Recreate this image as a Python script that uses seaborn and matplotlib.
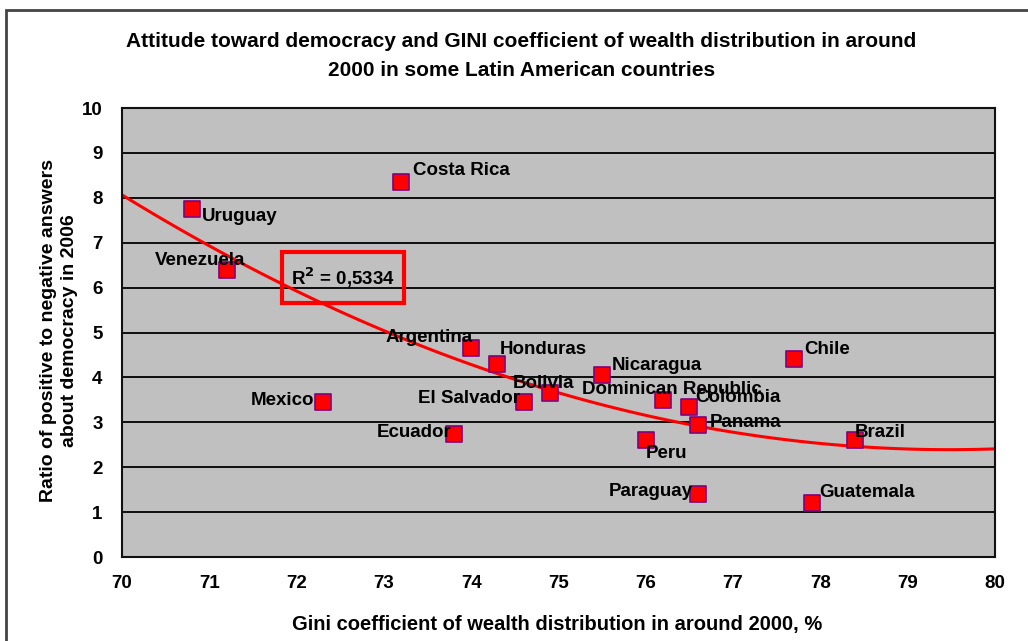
import numpy as np
import pandas as pd
import matplotlib.pyplot as plt
import seaborn as sns
from matplotlib.patches import Rectangle

countries = ["Uruguay", "Costa Rica", "Venezuela", "Argentina", "Honduras", "Mexico",
             "El Salvador", "Bolivia", "Nicaragua", "Ecuador", "Dominican Republic",
             "Colombia", "Panama", "Peru", "Chile", "Brazil", "Paraguay", "Guatemala"]
gini = [70.8, 73.2, 71.2, 74.0, 74.3, 72.3, 74.6, 74.9, 75.5, 73.8, 76.2,
        76.5, 76.6, 76.0, 77.7, 78.4, 76.6, 77.9]
ratio = [7.75, 8.35, 6.4, 4.65, 4.3, 3.45, 3.45, 3.65, 4.05, 2.75, 3.5,
         3.35, 2.95, 2.6, 4.4, 2.6, 1.4, 1.2]

# label offsets in pixels and alignment
label_pos = {
    "Uruguay": (10, -7, "left"), "Costa Rica": (12, 12, "left"),
    "Venezuela": (18, 9, "right"), "Argentina": (1, 11, "right"),
    "Honduras": (2, 14, "left"), "Mexico": (-9, 2, "right"),
    "El Salvador": (-4, 4, "right"), "Bolivia": (-6, 10, "center"),
    "Nicaragua": (10, 10, "left"), "Ecuador": (-2, 1, "right"),
    "Dominican Republic": (9, 10, "center"), "Colombia": (6, 9, "left"),
    "Panama": (12, 2, "left"), "Peru": (0, -13, "left"),
    "Chile": (10, 10, "left"), "Brazil": (-1, 8, "left"),
    "Paraguay": (-5, 3, "right"), "Guatemala": (8, 11, "left"),
}

df = pd.DataFrame({"country": countries, "gini": gini, "ratio": ratio})

sns.set_style("white")
plt.rcParams['font.family'] = ['Liberation Sans', 'DejaVu Sans']
plt.rcParams['font.weight'] = 'bold'
plt.rcParams['text.color'] = 'black'
plt.rcParams['axes.labelcolor'] = 'black'
plt.rcParams['xtick.color'] = 'black'
plt.rcParams['ytick.color'] = 'black'

fig = plt.figure(figsize=(10.28, 6.41), dpi=100)
ax = fig.add_axes([0.1187, 0.131, 0.8492, 0.7005])
ax.set_facecolor("#C0C0C0")
ax.set_xlim(70, 80)
ax.set_ylim(0, 10)
ax.set_xticks(range(70, 81))
ax.set_yticks(range(0, 11))
ax.grid(False)
for yv in range(1, 10):
    ax.axhline(yv, color="black", lw=1.3, zorder=1)

sns.regplot(data=df, x="gini", y="ratio", order=2, ci=None, scatter=False,
            truncate=False, ax=ax, line_kws={"color": "red", "lw": 2.2, "zorder": 2})
sns.scatterplot(data=df, x="gini", y="ratio", marker="s", s=120, color="red",
                edgecolor="#800080", linewidth=1.2, ax=ax, zorder=3)

for c, x, y in zip(countries, gini, ratio):
    dx, dy, ha = label_pos[c]
    ax.annotate(c, (x, y), xytext=(dx * 0.72, dy * 0.72), textcoords="offset points",
                ha=ha, va="center", fontsize=13.5, fontweight="bold", zorder=4)

ax.text(72.53, 6.21, "R$^2$ = 0,5334", ha="center", va="center", fontsize=13.5,
        fontweight="bold", zorder=5)
ax.add_patch(Rectangle((71.83, 5.66), 1.4, 1.13, fill=False, edgecolor="red", lw=3, zorder=5))

for s in ax.spines.values():
    s.set_color("#111111")
    s.set_linewidth(1.5)
ax.tick_params(direction="out", length=4, width=1.3, color="black", labelsize=13.5)
for lab in ax.get_xticklabels() + ax.get_yticklabels():
    lab.set_fontweight("bold")
ax.tick_params(axis="x", pad=9)
ax.tick_params(axis="y", pad=10)

ax.set_xlabel("Gini coefficient of wealth distribution in around 2000, %",
              fontsize=14.5, fontweight="bold")
ax.xaxis.set_label_coords(0.498, -0.151)
ax.xaxis.label.set_va("center")
ax.set_ylabel("Ratio of positive to negative answers\nabout democracy in 2006",
              fontsize=14, fontweight="bold", linespacing=1.3)
ax.yaxis.set_label_coords(-0.072, 0.505)
ax.yaxis.label.set_va("center")

fig.text(0.507, 0.9126, "Attitude toward democracy and GINI coefficient of wealth distribution in around\n2000 in some Latin American countries",
         ha="center", va="center", fontsize=15, fontweight="bold", linespacing=1.65)

fig.patches.append(Rectangle((6 / 1028, -0.1), 1.2, 1 - 10 / 641 + 0.1, transform=fig.transFigure,
                             fill=False, edgecolor="#444444", lw=2))

fig.savefig("out.png", dpi=100)
